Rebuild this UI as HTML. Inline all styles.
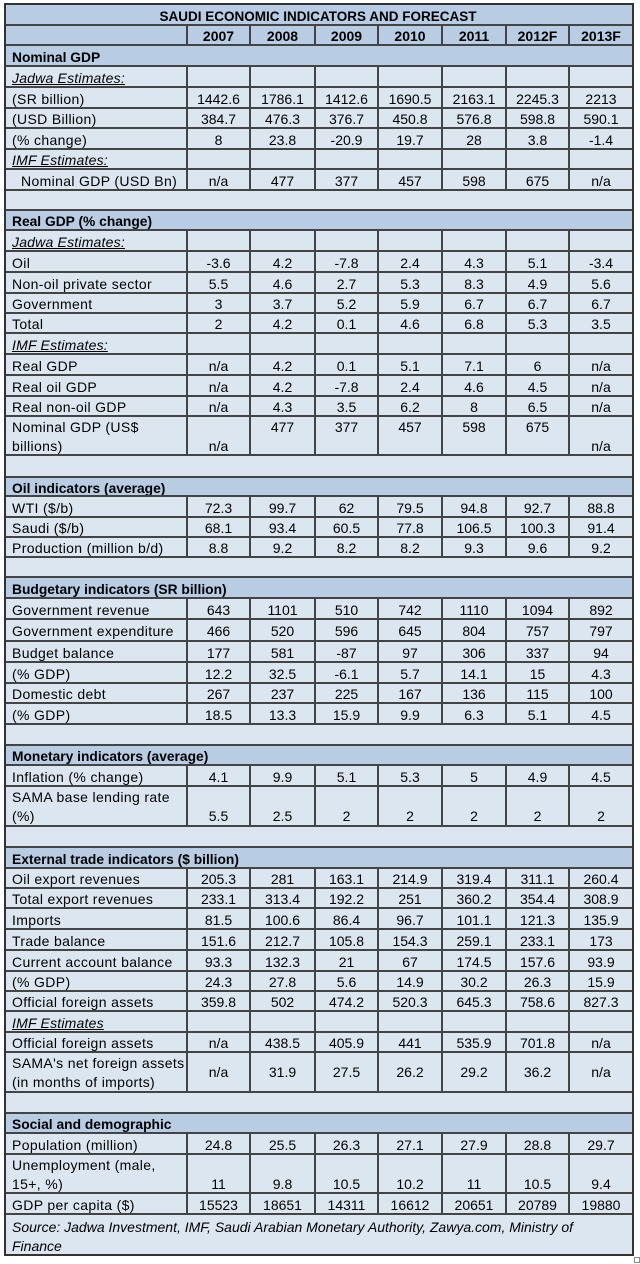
<!DOCTYPE html>
<html>
<head>
<meta charset="utf-8">
<style>
  html,body{margin:0;padding:0;}
  body{width:640px;height:1264px;background:#fff;position:relative;overflow:hidden;
       font-family:"Liberation Sans",Arial,sans-serif;color:#000;}
  .r{position:absolute;left:4px;width:630px;box-sizing:border-box;border-top:2px solid #444;
     display:flex;background:#dce6f1;}
  .c{box-sizing:border-box;border-left:2px solid #444;display:flex;align-items:center;
     justify-content:center;padding-top:2px;font-size:14px;white-space:nowrap;line-height:19px;}
  .r > .c:nth-child(1){border-left:none;justify-content:flex-start;padding-left:8px;width:182px;letter-spacing:0.35px;}
  .r > .c:nth-child(2){width:63px}
  .r > .c:nth-child(3){width:65px}
  .r > .c:nth-child(4){width:63px}
  .r > .c:nth-child(5){width:64px}
  .r > .c:nth-child(6){width:64px}
  .r > .c:nth-child(7){width:63px}
  .r > .c:nth-child(8){width:64px}
  .h{background:#b8cce4;}
  .r > .f{width:628px !important;border-left:none;font-weight:bold;font-size:13.8px;
          justify-content:flex-start;padding-left:8px;letter-spacing:0 !important;}
  .r > .t{width:628px !important;border-left:none;font-weight:bold;font-size:13.5px;
          justify-content:center !important;padding-left:0 !important;letter-spacing:0 !important;}
  .yr .c{font-weight:bold;}
  .e{font-style:italic;text-decoration:underline;letter-spacing:0.2px;}
  .ind{padding-left:17px !important;}
  .d .c{align-items:flex-start;padding-top:1px;}
  .d .c.b{padding-top:20px;}
  .d .c.m{align-items:center;padding-top:0;}
  .src{font-style:italic;padding-top:3px !important;align-items:flex-start !important;letter-spacing:0.33px !important;}
  .frame{position:absolute;left:4px;top:3px;width:630px;height:1253px;box-sizing:border-box;
         border:2px solid #333;pointer-events:none;}
  .sq{position:absolute;left:634px;top:1257px;width:6px;height:6px;box-sizing:border-box;border:1px solid #8a8a8a;background:#fff;}
</style>
</head>
<body>

<div class="r h" style="top:3px;height:22px"><div class="c t">SAUDI ECONOMIC INDICATORS AND FORECAST</div></div>
<div class="r h yr" style="top:24px;height:21px"><div class="c"></div><div class="c">2007</div><div class="c">2008</div><div class="c">2009</div><div class="c">2010</div><div class="c">2011</div><div class="c">2012F</div><div class="c">2013F</div></div>

<div class="r h" style="top:44px;height:22px"><div class="c f">Nominal GDP</div></div>
<div class="r" style="top:65px;height:22px"><div class="c"><span class="e">Jadwa Estimates:</span></div><div class="c"></div><div class="c"></div><div class="c"></div><div class="c"></div><div class="c"></div><div class="c"></div><div class="c"></div></div>
<div class="r" style="top:86px;height:22px"><div class="c">(SR billion)</div><div class="c">1442.6</div><div class="c">1786.1</div><div class="c">1412.6</div><div class="c">1690.5</div><div class="c">2163.1</div><div class="c">2245.3</div><div class="c">2213</div></div>
<div class="r" style="top:107px;height:21px"><div class="c">(USD Billion)</div><div class="c">384.7</div><div class="c">476.3</div><div class="c">376.7</div><div class="c">450.8</div><div class="c">576.8</div><div class="c">598.8</div><div class="c">590.1</div></div>
<div class="r" style="top:127px;height:22px"><div class="c">(% change)</div><div class="c">8</div><div class="c">23.8</div><div class="c">-20.9</div><div class="c">19.7</div><div class="c">28</div><div class="c">3.8</div><div class="c">-1.4</div></div>
<div class="r" style="top:148px;height:21px"><div class="c"><span class="e">IMF Estimates:</span></div><div class="c"></div><div class="c"></div><div class="c"></div><div class="c"></div><div class="c"></div><div class="c"></div><div class="c"></div></div>
<div class="r" style="top:168px;height:22px"><div class="c ind">Nominal GDP (USD Bn)</div><div class="c">n/a</div><div class="c">477</div><div class="c">377</div><div class="c">457</div><div class="c">598</div><div class="c">675</div><div class="c">n/a</div></div>
<div class="r" style="top:189px;height:21px"></div>

<div class="r h" style="top:209px;height:21px"><div class="c f">Real GDP (% change)</div></div>
<div class="r" style="top:229px;height:22px"><div class="c"><span class="e">Jadwa Estimates:</span></div><div class="c"></div><div class="c"></div><div class="c"></div><div class="c"></div><div class="c"></div><div class="c"></div><div class="c"></div></div>
<div class="r" style="top:250px;height:22px"><div class="c">Oil</div><div class="c">-3.6</div><div class="c">4.2</div><div class="c">-7.8</div><div class="c">2.4</div><div class="c">4.3</div><div class="c">5.1</div><div class="c">-3.4</div></div>
<div class="r" style="top:271px;height:22px"><div class="c">Non-oil private sector</div><div class="c">5.5</div><div class="c">4.6</div><div class="c">2.7</div><div class="c">5.3</div><div class="c">8.3</div><div class="c">4.9</div><div class="c">5.6</div></div>
<div class="r" style="top:292px;height:21px"><div class="c">Government</div><div class="c">3</div><div class="c">3.7</div><div class="c">5.2</div><div class="c">5.9</div><div class="c">6.7</div><div class="c">6.7</div><div class="c">6.7</div></div>
<div class="r" style="top:312px;height:21px"><div class="c">Total</div><div class="c">2</div><div class="c">4.2</div><div class="c">0.1</div><div class="c">4.6</div><div class="c">6.8</div><div class="c">5.3</div><div class="c">3.5</div></div>
<div class="r" style="top:332px;height:22px"><div class="c"><span class="e">IMF Estimates:</span></div><div class="c"></div><div class="c"></div><div class="c"></div><div class="c"></div><div class="c"></div><div class="c"></div><div class="c"></div></div>
<div class="r" style="top:353px;height:22px"><div class="c">Real GDP</div><div class="c">n/a</div><div class="c">4.2</div><div class="c">0.1</div><div class="c">5.1</div><div class="c">7.1</div><div class="c">6</div><div class="c">n/a</div></div>
<div class="r" style="top:374px;height:22px"><div class="c">Real oil GDP</div><div class="c">n/a</div><div class="c">4.2</div><div class="c">-7.8</div><div class="c">2.4</div><div class="c">4.6</div><div class="c">4.5</div><div class="c">n/a</div></div>
<div class="r" style="top:395px;height:21px"><div class="c">Real non-oil GDP</div><div class="c">n/a</div><div class="c">4.3</div><div class="c">3.5</div><div class="c">6.2</div><div class="c">8</div><div class="c">6.5</div><div class="c">n/a</div></div>
<div class="r d" style="top:415px;height:40px"><div class="c"><span>Nominal GDP (US$<br>billions)</span></div><div class="c b">n/a</div><div class="c">477</div><div class="c">377</div><div class="c">457</div><div class="c">598</div><div class="c">675</div><div class="c b">n/a</div></div>
<div class="r" style="top:454px;height:23px"></div>

<div class="r h" style="top:476px;height:20px"><div class="c f">Oil indicators (average)</div></div>
<div class="r" style="top:495px;height:22px"><div class="c">WTI ($/b)</div><div class="c">72.3</div><div class="c">99.7</div><div class="c">62</div><div class="c">79.5</div><div class="c">94.8</div><div class="c">92.7</div><div class="c">88.8</div></div>
<div class="r" style="top:516px;height:21px"><div class="c">Saudi ($/b)</div><div class="c">68.1</div><div class="c">93.4</div><div class="c">60.5</div><div class="c">77.8</div><div class="c">106.5</div><div class="c">100.3</div><div class="c">91.4</div></div>
<div class="r" style="top:536px;height:21px"><div class="c">Production (million b/d)</div><div class="c">8.8</div><div class="c">9.2</div><div class="c">8.2</div><div class="c">8.2</div><div class="c">9.3</div><div class="c">9.6</div><div class="c">9.2</div></div>
<div class="r" style="top:556px;height:21px"></div>

<div class="r h" style="top:576px;height:22px"><div class="c f">Budgetary indicators (SR billion)</div></div>
<div class="r" style="top:597px;height:22px"><div class="c">Government revenue</div><div class="c">643</div><div class="c">1101</div><div class="c">510</div><div class="c">742</div><div class="c">1110</div><div class="c">1094</div><div class="c">892</div></div>
<div class="r" style="top:618px;height:23px"><div class="c">Government expenditure</div><div class="c">466</div><div class="c">520</div><div class="c">596</div><div class="c">645</div><div class="c">804</div><div class="c">757</div><div class="c">797</div></div>
<div class="r" style="top:640px;height:22px"><div class="c">Budget balance</div><div class="c">177</div><div class="c">581</div><div class="c">-87</div><div class="c">97</div><div class="c">306</div><div class="c">337</div><div class="c">94</div></div>
<div class="r" style="top:661px;height:22px"><div class="c">(% GDP)</div><div class="c">12.2</div><div class="c">32.5</div><div class="c">-6.1</div><div class="c">5.7</div><div class="c">14.1</div><div class="c">15</div><div class="c">4.3</div></div>
<div class="r" style="top:682px;height:21px"><div class="c">Domestic debt</div><div class="c">267</div><div class="c">237</div><div class="c">225</div><div class="c">167</div><div class="c">136</div><div class="c">115</div><div class="c">100</div></div>
<div class="r" style="top:702px;height:22px"><div class="c">(% GDP)</div><div class="c">18.5</div><div class="c">13.3</div><div class="c">15.9</div><div class="c">9.9</div><div class="c">6.3</div><div class="c">5.1</div><div class="c">4.5</div></div>
<div class="r" style="top:723px;height:22px"></div>

<div class="r h" style="top:744px;height:21px"><div class="c f">Monetary indicators (average)</div></div>
<div class="r" style="top:764px;height:22px"><div class="c">Inflation (% change)</div><div class="c">4.1</div><div class="c">9.9</div><div class="c">5.1</div><div class="c">5.3</div><div class="c">5</div><div class="c">4.9</div><div class="c">4.5</div></div>
<div class="r d" style="top:785px;height:41px"><div class="c"><span>SAMA base lending rate<br>(%)</span></div><div class="c b">5.5</div><div class="c b">2.5</div><div class="c b">2</div><div class="c b">2</div><div class="c b">2</div><div class="c b">2</div><div class="c b">2</div></div>
<div class="r" style="top:825px;height:22px"></div>

<div class="r h" style="top:846px;height:22px"><div class="c f">External trade indicators ($ billion)</div></div>
<div class="r" style="top:867px;height:21px"><div class="c">Oil export revenues</div><div class="c">205.3</div><div class="c">281</div><div class="c">163.1</div><div class="c">214.9</div><div class="c">319.4</div><div class="c">311.1</div><div class="c">260.4</div></div>
<div class="r" style="top:887px;height:21px"><div class="c">Total export revenues</div><div class="c">233.1</div><div class="c">313.4</div><div class="c">192.2</div><div class="c">251</div><div class="c">360.2</div><div class="c">354.4</div><div class="c">308.9</div></div>
<div class="r" style="top:907px;height:22px"><div class="c">Imports</div><div class="c">81.5</div><div class="c">100.6</div><div class="c">86.4</div><div class="c">96.7</div><div class="c">101.1</div><div class="c">121.3</div><div class="c">135.9</div></div>
<div class="r" style="top:928px;height:22px"><div class="c">Trade balance</div><div class="c">151.6</div><div class="c">212.7</div><div class="c">105.8</div><div class="c">154.3</div><div class="c">259.1</div><div class="c">233.1</div><div class="c">173</div></div>
<div class="r" style="top:949px;height:22px"><div class="c">Current account balance</div><div class="c">93.3</div><div class="c">132.3</div><div class="c">21</div><div class="c">67</div><div class="c">174.5</div><div class="c">157.6</div><div class="c">93.9</div></div>
<div class="r" style="top:970px;height:21px"><div class="c">(% GDP)</div><div class="c">24.3</div><div class="c">27.8</div><div class="c">5.6</div><div class="c">14.9</div><div class="c">30.2</div><div class="c">26.3</div><div class="c">15.9</div></div>
<div class="r" style="top:990px;height:21px"><div class="c">Official foreign assets</div><div class="c">359.8</div><div class="c">502</div><div class="c">474.2</div><div class="c">520.3</div><div class="c">645.3</div><div class="c">758.6</div><div class="c">827.3</div></div>
<div class="r" style="top:1010px;height:22px"><div class="c"><span class="e">IMF Estimates</span></div><div class="c"></div><div class="c"></div><div class="c"></div><div class="c"></div><div class="c"></div><div class="c"></div><div class="c"></div></div>
<div class="r" style="top:1031px;height:21px"><div class="c">Official foreign assets</div><div class="c">n/a</div><div class="c">438.5</div><div class="c">405.9</div><div class="c">441</div><div class="c">535.9</div><div class="c">701.8</div><div class="c">n/a</div></div>
<div class="r d" style="top:1051px;height:41px"><div class="c"><span>SAMA's net foreign assets<br>(in months of imports)</span></div><div class="c m">n/a</div><div class="c m">31.9</div><div class="c m">27.5</div><div class="c m">26.2</div><div class="c m">29.2</div><div class="c m">36.2</div><div class="c m">n/a</div></div>
<div class="r" style="top:1091px;height:22px"></div>

<div class="r h" style="top:1112px;height:21px"><div class="c f">Social and demographic</div></div>
<div class="r" style="top:1132px;height:22px"><div class="c">Population (million)</div><div class="c">24.8</div><div class="c">25.5</div><div class="c">26.3</div><div class="c">27.1</div><div class="c">27.9</div><div class="c">28.8</div><div class="c">29.7</div></div>
<div class="r d" style="top:1153px;height:40px"><div class="c"><span>Unemployment (male,<br>15+, %)</span></div><div class="c b">11</div><div class="c b">9.8</div><div class="c b">10.5</div><div class="c b">10.2</div><div class="c b">11</div><div class="c b">10.5</div><div class="c b">9.4</div></div>
<div class="r" style="top:1192px;height:22px"><div class="c">GDP per capita ($)</div><div class="c">15523</div><div class="c">18651</div><div class="c">14311</div><div class="c">16612</div><div class="c">20651</div><div class="c">20789</div><div class="c">19880</div></div>
<div class="r" style="top:1213px;height:42px"><div class="c f src" style="font-weight:normal;font-size:14px;"><span>Source: Jadwa Investment, IMF, Saudi Arabian Monetary Authority, Zawya.com, Ministry of<br>Finance</span></div></div>

<div class="frame"></div>
<div class="sq"></div>

</body>
</html>
